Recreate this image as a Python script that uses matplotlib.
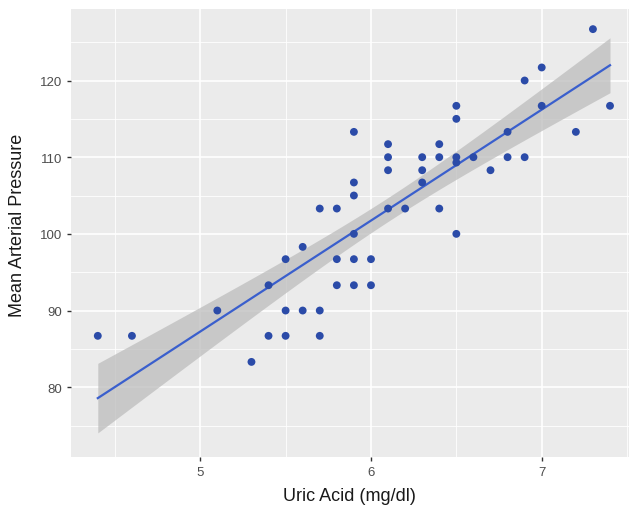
import numpy as np
import matplotlib
matplotlib.use("Agg")
import matplotlib.pyplot as plt
from matplotlib.ticker import MultipleLocator

# данные: мочевая кислота (mg/dl) и среднее артериальное давление
uric_acid = [
    4.4, 4.6, 5.1, 5.3, 5.4, 5.4, 5.5, 5.5, 5.5, 5.6, 5.6, 5.7, 5.7, 5.7,
    5.8, 5.8, 5.8, 5.9, 5.9, 5.9, 5.9, 5.9, 5.9, 6.0, 6.0, 6.1, 6.1, 6.1,
    6.1, 6.2, 6.3, 6.3, 6.3, 6.4, 6.4, 6.4, 6.5, 6.5, 6.5, 6.5, 6.5, 6.6,
    6.7, 6.8, 6.8, 6.9, 6.9, 7.0, 7.0, 7.2, 7.3, 7.4,
]
mean_pressure = [
    86.7, 86.7, 90.0, 83.3, 93.3, 86.7, 96.7, 90.0, 86.7, 98.3, 90.0, 103.3, 90.0, 86.7,
    103.3, 96.7, 93.3, 113.3, 106.7, 105.0, 100.0, 96.7, 93.3, 96.7, 93.3, 111.7, 110.0, 108.3,
    103.3, 103.3, 110.0, 108.3, 106.7, 111.7, 110.0, 103.3, 116.7, 115.0, 110.0, 109.3, 100.0, 110.0,
    108.3, 113.3, 110.0, 120.0, 110.0, 121.7, 116.7, 113.3, 126.7, 116.7,
]

x = np.array(uric_acid)
y = np.array(mean_pressure)

# линейная регрессия и 95% доверительный интервал
n = len(x)
slope, intercept = np.polyfit(x, y, 1)
resid = y - (slope * x + intercept)
s = np.sqrt(np.sum(resid ** 2) / (n - 2))
t_val = 2.009  # t(0.975, df=50)
xs = np.linspace(x.min(), x.max(), 100)
ys = slope * xs + intercept
se = s * np.sqrt(1 / n + (xs - x.mean()) ** 2 / np.sum((x - x.mean()) ** 2))

plt.rcParams["font.family"] = ["Liberation Sans", "DejaVu Sans"]

fig = plt.figure(figsize=(6.31, 5.10), dpi=100)
ax = fig.add_axes([0.1125, 0.102, 0.884, 0.878])
ax.set_facecolor("#EBEBEB")

# сетка в стиле ggplot
ax.xaxis.set_major_locator(MultipleLocator(1))
ax.xaxis.set_minor_locator(MultipleLocator(0.5))
ax.yaxis.set_major_locator(MultipleLocator(10))
ax.yaxis.set_minor_locator(MultipleLocator(5))
ax.grid(which="major", color="white", linewidth=1.2)
ax.grid(which="minor", color="white", linewidth=0.6)
ax.set_axisbelow(True)
for sp in ax.spines.values():
    sp.set_visible(False)

ax.fill_between(xs, ys - t_val * se, ys + t_val * se, color="#BDBDBD", alpha=0.75,
                linewidth=0, zorder=2)
ax.plot(xs, ys, color="#3A5FCD", linewidth=1.6, zorder=3)
ax.scatter(x, y, s=32, color="#2B4BA8", edgecolors="none", zorder=4)

ax.set_xlim(4.243, 7.51)
ax.set_ylim(70.9, 129.3)

ax.tick_params(which="major", length=3.2, width=1, color="#333333",
               labelcolor="#4D4D4D", labelsize=9.5, pad=3)
ax.tick_params(which="minor", length=0)

ax.set_xlabel("Uric Acid (mg/dl)", fontsize=13, color="#1A1A1A")
ax.set_ylabel("Mean Arterial Pressure", fontsize=13, color="#1A1A1A")
ax.xaxis.set_label_coords(0.5, -0.067)
ax.yaxis.set_label_coords(-0.08, 0.52)

fig.savefig("out.png", dpi=100)
